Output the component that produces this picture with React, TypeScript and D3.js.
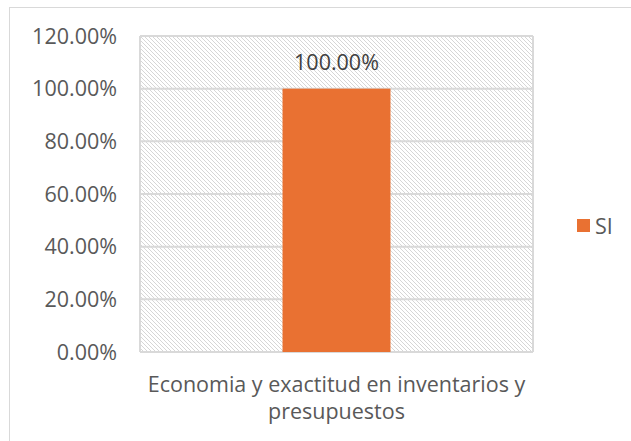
import React from "react";
import * as d3 from "d3";

const categories = ["Economia y exactitud en inventarios y presupuestos"];
const categoryLines = [["Economia y exactitud en inventarios y", "presupuestos"]];
const seriesName = "SI";
const seriesValues = [1.0];
const yTicks = [0, 0.2, 0.4, 0.6, 0.8, 1.0, 1.2];

const W = 631;
const H = 441;
const M = { left: 140, right: 98, top: 36, bottom: 89 };
const FONT = "'Open Sans', 'Liberation Sans', sans-serif";
const FS = 21.5;
const TXT = "#595959";
const ORANGE = "#E97132";

export default function App() {
  const innerW = W - M.left - M.right;
  const innerH = H - M.top - M.bottom;
  const x = d3.scaleBand<string>().domain(categories).range([0, innerW]).paddingInner(0).paddingOuter(1.32);
  const y = d3.scaleLinear().domain([0, 1.2]).range([innerH, 0]);
  const fmt = (v: number) => d3.format(".2f")(v * 100) + "%";

  return (
    <svg width={W} height={H} style={{ position: "absolute", left: 0, top: 0, display: "block" }}>
      <defs>
        <pattern id="hatch" width="4" height="4" patternUnits="userSpaceOnUse">
          <path d="M-1,-1 L5,5 M-1,3 L1,5 M3,-1 L5,1" stroke="#d6d6d6" strokeWidth="1" />
        </pattern>
      </defs>
      <rect x={0} y={0} width={W} height={H} fill="#fff" />
      <rect x={9.5} y={7.5} width={W} height={H} fill="none" stroke="#d9d9d9" strokeWidth={1} />
      <g transform={`translate(${M.left},${M.top})`}>
        <rect x={0} y={0} width={innerW} height={innerH} fill="url(#hatch)" />
        {yTicks.map((t) => (
          <line key={t} x1={0} x2={innerW} y1={y(t)} y2={y(t)} stroke="#d9d9d9" strokeWidth={2} />
        ))}
        <line x1={0} x2={0} y1={0} y2={innerH} stroke="#d9d9d9" strokeWidth={2} />
        <line x1={innerW} x2={innerW} y1={0} y2={innerH} stroke="#d9d9d9" strokeWidth={2} />
        {yTicks.map((t) => (
          <text key={"l" + t} x={-23} y={y(t)} dy="0.35em" textAnchor="end" fontFamily={FONT} fontSize={FS} fill={TXT}>
            {fmt(t)}
          </text>
        ))}
        {categories.map((c, i) => (
          <g key={c}>
            <rect x={x(c)!} y={y(seriesValues[i])} width={x.bandwidth()} height={innerH - y(seriesValues[i])} fill={ORANGE} />
            <text x={x(c)! + x.bandwidth() / 2} y={y(seriesValues[i]) - 19} textAnchor="middle" fontFamily={FONT} fontSize={FS} fill="#404040">
              {fmt(seriesValues[i])}
            </text>
            {categoryLines[i].map((ln, j) => (
              <text key={j} x={x(c)! + x.bandwidth() / 2} y={innerH + 40 + j * 27} textAnchor="middle" fontFamily={FONT} fontSize={FS} fill={TXT}>
                {ln}
              </text>
            ))}
          </g>
        ))}
      </g>
      <rect x={577} y={219} width={13} height={13} fill={ORANGE} />
      <text x={595} y={226} dy="0.35em" fontFamily={FONT} fontSize={FS} fill={TXT}>{seriesName}</text>
    </svg>
  );
}
